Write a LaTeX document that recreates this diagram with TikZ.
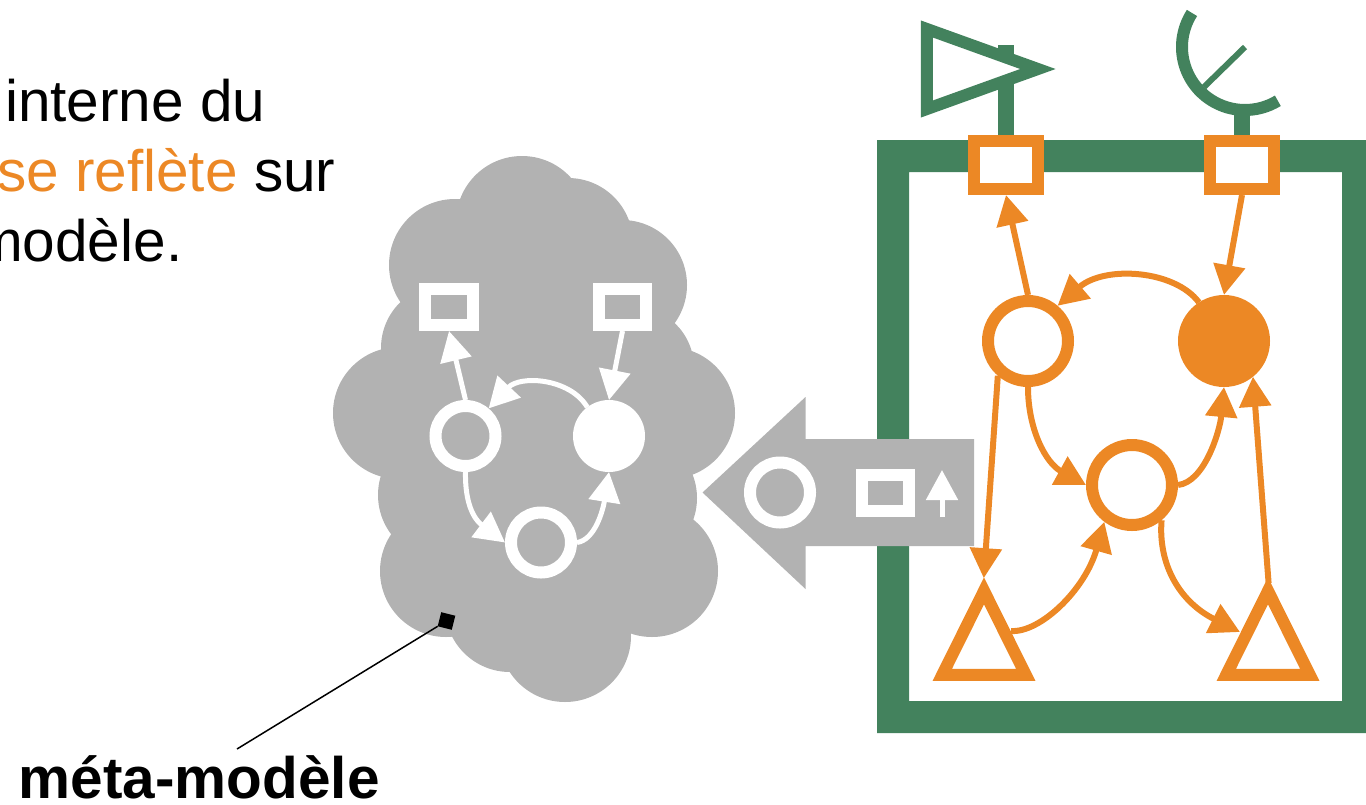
\documentclass[tikz,border=0pt]{standalone}
\usepackage{fontspec}
\setmainfont{Liberation Sans}
\usetikzlibrary{arrows.meta,shapes.geometric}
\definecolor{frameg}{RGB}{67,130,93}
\definecolor{orng}{RGB}{236,136,37}
\definecolor{cloudg}{RGB}{178,178,178}
\tikzset{
  ringo/.style={circle,draw=orng,line width=12pt,fill=white,minimum size=80pt,inner sep=0pt},
  disco/.style={circle,fill=orng,minimum size=92pt,inner sep=0pt,outer sep=0pt},
  ringw/.style={circle,draw=white,line width=12pt,fill=cloudg,minimum size=60pt,inner sep=0pt},
  discw/.style={circle,fill=white,minimum size=72pt,inner sep=0pt,outer sep=0pt},
  porto/.style={rectangle,draw=orng,line width=12pt,fill=white,minimum width=64pt,minimum height=48pt,inner sep=0pt},
  portw/.style={rectangle,draw=white,line width=12pt,fill=cloudg,minimum width=47.5pt,minimum height=36pt,inner sep=0pt},
  trio/.style={isosceles triangle,isosceles triangle stretches,shape border rotate=90,draw=orng,line width=12pt,fill=white,minimum width=83.5pt,minimum height=84pt,inner sep=0pt},
  trig/.style={isosceles triangle,isosceles triangle stretches,draw=frameg,line width=12pt,fill=white,minimum width=80pt,minimum height=111pt,inner sep=0pt},
  arro/.style={draw=orng,line width=6pt,-{Triangle[length=30pt,width=31pt]}},
  arrw/.style={draw=white,line width=5pt,-{Triangle[length=30pt,width=31pt]}},
  txt/.style={font=\fontsize{58.5pt}{70pt}\selectfont,anchor=base west,inner sep=0pt},
}
\begin{document}
\begin{tikzpicture}[x=1pt,y=-1pt]
\useasboundingbox (0,0) rectangle (1366,804);
% texts
\node[txt] (t1) at (5,121.5) {interne du};
\node[txt] (t2) at (-3,191) {\textcolor{orng}{se reflète} sur};
\node[txt] (t3) at (-26,261.5) {modèle.};
\node[txt,font=\fontsize{58.5pt}{70pt}\selectfont\bfseries] (t4) at (18.5,798) {méta-modèle};
% cloud
\fill[cloudg] (522,222) -- (568,243) -- (622,285) -- (632,368) -- (669,413) -- (633,498) -- (652,571) -- (565,636) -- (510,607) -- (446,571) -- (443,495) -- (399,413) -- (445,348) -- (455,265) -- cycle;
\foreach \cx/\cy/\cr in {522/222/66,568/243/65,622/285/65,632/368/62,669/413/66,633/498/64,652/571/66,565/636/66,510/607/65,446/571/66,443/495/65,399/413/66,445/348/64,455/265/66}
  \fill[cloudg] (\cx,\cy) circle[radius=\cr];
% antenna stems and frame
\draw[frameg,line width=16pt] (1006,45) -- (1006,140);
\draw[frameg,line width=16pt] (1242,108) -- (1242,140);
\node[trig] (emit) at (955,69) {};
\draw[frameg,line width=12pt] (1245,47) ++(212.7:63) arc[start angle=212.7,end angle=58.6,radius=63];
\coordinate (needa) at (1245,47);
\coordinate (needb) at (1204,87);
\draw[frameg,line width=6pt] (needa) -- (needb);
\fill[frameg,even odd rule] (877,140) rectangle (1366,733) (909,172) rectangle (1342,701);
% grey arrow
\fill[cloudg] (702.5,492.5) -- (805.5,397) -- (805.5,439) -- (974,439) -- (974,546) -- (805.5,546) -- (805.5,589) -- cycle;
\node[ringw] (legc) at (780,492.5) {};
\node[portw] (legr) at (885.5,493) {};
\coordinate (lega) at (942,517);
\coordinate (legb) at (942,470);
\draw[arrw] (lega) -- (legb);
% orange graph
\node[porto] (pl) at (1006,165) {};
\node[porto] (pr) at (1242,165) {};
\node[ringo] (n1) at (1028,341) {};
\node[disco] (n2) at (1224,341) {};
\node[ringo] (n3) at (1132,485) {};
\node[trio] (t1o) at (984,649) {};
\node[trio] (t2o) at (1268,649) {};
\coordinate (t1r) at (1011,631);
\coordinate (t2l) at (1240,632);
\draw[arro] (n1.north) -- (pl.south);
\draw[arro] (pr.south) -- (n2.north);
\draw[arro] (n2.123) .. controls (1175,270) and (1105,265) .. (n1.50);
\draw[arro] (n1.south) .. controls (1028,430) and (1046,463) .. (n3.west);
\draw[arro] (n3.east) .. controls (1205,482) and (1220,430) .. (n2.south);
\draw[arro] (t1r) .. controls (1040,633) and (1085,590) .. (n3.233);
\draw[arro] (n3.-50) .. controls (1158,565) and (1180,602) .. (t2l);
\draw[arro,shorten >=-3pt] (n1.229) -- (t1o.apex);
\draw[arro,shorten <=-8pt] (t2o.apex) -- (n2.-51);
% white graph
\node[portw] (wl) at (449,307) {};
\node[portw] (wr) at (622.5,307) {};
\node[ringw] (w1) at (465.5,436) {};
\node[discw] (w2) at (609,436) {};
\node[ringw] (w3) at (541,542.5) {};
\draw[arrw] (w1.north) -- (wl.south);
\draw[arrw] (wr.south) -- (w2.north);
\draw[arrw] (w2.127) .. controls (570,378) and (520,375) .. (w1.50);
\draw[arrw] (w1.south) .. controls (465,495) and (470,516) .. (w3.west);
\draw[arrw] (w3.east) .. controls (595,540) and (603,510) .. (w2.south);
% pointer
\node[rectangle,fill=black,minimum size=14.5pt,inner sep=0pt,outer sep=0pt,rotate=-14] (mk) at (446.5,621) {};
\coordinate (lab) at (237,749);
\draw[black,line width=1.5pt] (mk.south west) -- (lab);
\end{tikzpicture}
\end{document}
